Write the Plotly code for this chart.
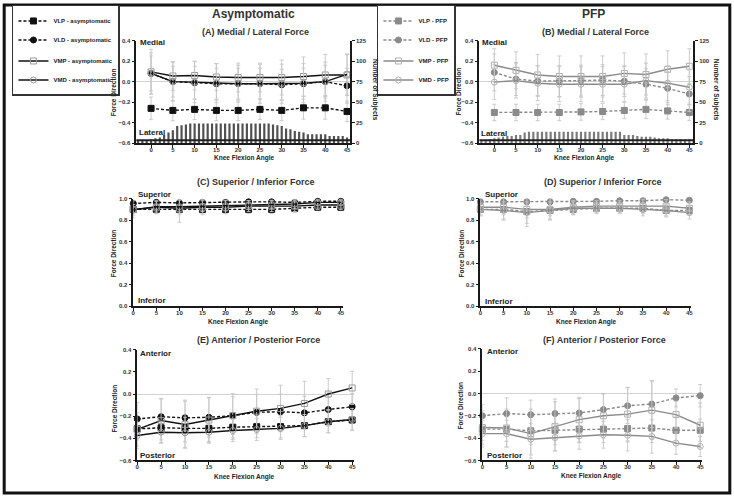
import plotly.graph_objects as go

W, H = 734, 498
FONT = "Liberation Sans"

angles = [0, 5, 10, 15, 20, 25, 30, 35, 40, 45]
bar_angles = [-3, -2, -1, 0, 1, 2, 3, 4, 5, 6, 7, 8, 9, 10, 11, 12, 13, 14, 15, 16,
              17, 18, 19, 20, 21, 22, 23, 24, 25, 26, 27, 28, 29, 30, 31, 32, 33,
              34, 35, 36, 37, 38, 39, 40, 41, 42, 43, 44, 45, 46]

# number of subjects contributing at each knee angle
asym_counts = [4, 4, 4, 5, 6, 7, 10, 13, 16, 21, 22, 23, 24, 24, 24, 24, 24, 24, 24, 24,
               24, 24, 24, 24, 24, 24, 24, 24, 24, 24, 24, 23, 22, 21, 18, 17, 15,
               14, 13, 11, 11, 11, 11, 11, 9, 9, 9, 9, 7, 6]
pfp_counts = [4, 4, 5, 6, 7, 8, 9, 9, 10, 10, 13, 14, 14, 14, 14, 14, 14, 14, 14, 14,
              14, 14, 14, 14, 14, 14, 14, 14, 14, 14, 14, 14, 14, 10, 10, 10, 9,
              8, 8, 8, 7, 6, 6, 6, 5, 5, 5, 5, 5, 5]

# (A) asymptomatic medial / lateral
a_vlp = [-0.26, -0.28, -0.27, -0.28, -0.28, -0.27, -0.28, -0.255, -0.255, -0.29]
a_vld = [0.08, 0.0, -0.01, -0.02, -0.02, -0.02, -0.03, -0.02, 0.0, -0.04]
a_vmp = [0.095, 0.055, 0.06, 0.045, 0.04, 0.04, 0.04, 0.05, 0.065, 0.065]
a_vmd = [0.08, 0.0, -0.005, -0.015, -0.02, -0.02, -0.02, -0.015, 0.0, 0.07]
a_vlp_sd = [0.11, 0.10, 0.10, 0.10, 0.10, 0.10, 0.10, 0.11, 0.11, 0.10]
a_vld_sd = [0.17, 0.15, 0.16, 0.15, 0.15, 0.15, 0.15, 0.15, 0.16, 0.17]
a_vmp_sd = [0.22, 0.14, 0.14, 0.13, 0.14, 0.14, 0.17, 0.19, 0.20, 0.20]
a_vmd_sd = [0.20, 0.19, 0.20, 0.19, 0.18, 0.19, 0.19, 0.19, 0.19, 0.20]

# (B) PFP medial / lateral
b_vlp = [-0.30, -0.30, -0.30, -0.30, -0.295, -0.29, -0.28, -0.27, -0.285, -0.30]
b_vld = [0.09, 0.025, 0.005, 0.005, 0.01, 0.015, 0.005, -0.025, -0.065, -0.12]
b_vmp = [0.16, 0.11, 0.065, 0.05, 0.05, 0.05, 0.08, 0.07, 0.12, 0.15]
b_vmd = [-0.005, 0.01, -0.015, -0.025, -0.025, -0.025, -0.025, 0.01, -0.015, -0.055]
b_vlp_sd = [0.08, 0.08, 0.08, 0.08, 0.08, 0.08, 0.08, 0.09, 0.08, 0.08]
b_vld_sd = [0.18, 0.16, 0.15, 0.15, 0.15, 0.15, 0.15, 0.15, 0.16, 0.17]
b_vmp_sd = [0.16, 0.18, 0.2, 0.2, 0.2, 0.2, 0.2, 0.2, 0.18, 0.17]
b_vmd_sd = [0.17, 0.17, 0.17, 0.17, 0.17, 0.17, 0.17, 0.17, 0.17, 0.17]

# (C) asymptomatic superior / inferior
c_vlp = [0.90, 0.90, 0.90, 0.90, 0.90, 0.90, 0.90, 0.91, 0.92, 0.92]
c_vld = [0.955, 0.965, 0.96, 0.965, 0.965, 0.97, 0.97, 0.965, 0.975, 0.975]
c_vmp = [0.90, 0.92, 0.91, 0.92, 0.92, 0.93, 0.93, 0.93, 0.94, 0.94]
c_vmd = [0.895, 0.925, 0.925, 0.93, 0.935, 0.94, 0.945, 0.95, 0.965, 0.965]
c_vlp_sd = [0.04, 0.04, 0.05, 0.04, 0.04, 0.04, 0.04, 0.04, 0.03, 0.03]
c_vld_sd = [0.03, 0.02, 0.03, 0.02, 0.02, 0.02, 0.02, 0.02, 0.02, 0.02]
c_vmp_sd = [0.08, 0.06, 0.13, 0.07, 0.06, 0.05, 0.05, 0.05, 0.04, 0.04]
c_vmd_sd = [0.05, 0.05, 0.06, 0.05, 0.05, 0.04, 0.04, 0.04, 0.03, 0.03]

# (D) PFP superior / inferior
d_vlp = [0.90, 0.90, 0.88, 0.89, 0.90, 0.91, 0.91, 0.91, 0.89, 0.89]
d_vld = [0.97, 0.97, 0.97, 0.97, 0.975, 0.975, 0.98, 0.98, 0.99, 0.985]
d_vmp = [0.92, 0.92, 0.90, 0.90, 0.92, 0.93, 0.93, 0.93, 0.93, 0.91]
d_vmd = [0.90, 0.89, 0.87, 0.89, 0.91, 0.91, 0.91, 0.90, 0.89, 0.87]
d_vlp_sd = [0.05, 0.05, 0.06, 0.05, 0.05, 0.04, 0.04, 0.05, 0.05, 0.04]
d_vld_sd = [0.02, 0.02, 0.02, 0.02, 0.02, 0.02, 0.02, 0.02, 0.01, 0.01]
d_vmp_sd = [0.08, 0.12, 0.16, 0.1, 0.06, 0.05, 0.05, 0.06, 0.06, 0.06]
d_vmd_sd = [0.06, 0.08, 0.1, 0.08, 0.06, 0.05, 0.05, 0.06, 0.06, 0.06]

# (E) asymptomatic anterior / posterior
e_vlp = [-0.315, -0.305, -0.31, -0.31, -0.30, -0.295, -0.295, -0.285, -0.25, -0.235]
e_vld = [-0.225, -0.205, -0.215, -0.21, -0.195, -0.165, -0.16, -0.17, -0.14, -0.115]
e_vmp = [-0.32, -0.24, -0.275, -0.235, -0.195, -0.155, -0.13, -0.085, 0.0, 0.055]
e_vmd = [-0.375, -0.345, -0.35, -0.345, -0.33, -0.32, -0.31, -0.285, -0.25, -0.23]
e_vlp_sd = [0.10, 0.11, 0.12, 0.12, 0.11, 0.10, 0.10, 0.10, 0.10, 0.09]
e_vld_sd = [0.15, 0.16, 0.16, 0.18, 0.17, 0.16, 0.16, 0.15, 0.15, 0.12]
e_vmp_sd = [0.15, 0.20, 0.21, 0.20, 0.20, 0.20, 0.21, 0.20, 0.14, 0.15]
e_vmd_sd = [0.12, 0.10, 0.14, 0.10, 0.10, 0.10, 0.10, 0.10, 0.10, 0.10]

# (F) PFP anterior / posterior
f_vlp = [-0.32, -0.32, -0.335, -0.33, -0.32, -0.32, -0.315, -0.31, -0.33, -0.33]
f_vld = [-0.20, -0.18, -0.19, -0.18, -0.175, -0.145, -0.11, -0.095, -0.04, -0.02]
f_vmp = [-0.305, -0.31, -0.36, -0.295, -0.235, -0.20, -0.185, -0.15, -0.19, -0.285]
f_vmd = [-0.36, -0.36, -0.41, -0.395, -0.38, -0.37, -0.375, -0.385, -0.445, -0.475]
f_vlp_sd = [0.10, 0.11, 0.12, 0.13, 0.12, 0.12, 0.12, 0.13, 0.12, 0.10]
f_vld_sd = [0.10, 0.14, 0.13, 0.13, 0.13, 0.14, 0.16, 0.21, 0.08, 0.10]
f_vmp_sd = [0.15, 0.17, 0.22, 0.22, 0.2, 0.2, 0.24, 0.26, 0.12, 0.2]
f_vmd_sd = [0.12, 0.12, 0.14, 0.12, 0.12, 0.12, 0.14, 0.15, 0.10, 0.09]

ASYM = "#111111"
PFP = "#8a8a8a"
ERR = "#c6c6c6"


def fx(px):
    return px / W


def fy(py):
    return 1 - py / H


fig = go.Figure()


def add_panel(xa, ya, vals, sds, color, open_color, group, names, legend, showlegend):
    styles = [("square", "3px,2px", "lat"), ("circle", "3px,2px", "lat"),
              ("square-open", "solid", "med"), ("circle-open", "solid", "med")]
    for y, sd, name, (sym, dash, g) in zip(vals, sds, names, styles):
        mcol = open_color if sym.endswith("open") else color
        fig.add_trace(go.Scatter(
            x=angles, y=y, name=name, mode="lines+markers",
            xaxis=xa, yaxis=ya, legend=legend, showlegend=showlegend,
            legendgroup=group + g, cliponaxis=False,
            line=dict(color=color, width=1.4, dash=dash),
            marker=dict(symbol=sym, size=6, color=mcol, line=dict(color=mcol, width=1)),
            error_y=dict(type="data", array=sd, color=ERR, thickness=0.9, width=2),
        ))


asym_names = ["VLP - asymptomatic", "VLD - asymptomatic", "VMP - asymptomatic", "VMD - asymptomatic"]
pfp_names = ["VLP - PFP", "VLD - PFP", "VMP - PFP", "VMD - PFP"]

# histograms of subject counts (right axes)
fig.add_trace(go.Bar(x=bar_angles, y=asym_counts, xaxis="x", yaxis="y2", width=0.5,
                     marker=dict(color="#505050", line=dict(width=0)), showlegend=False))
fig.add_trace(go.Bar(x=bar_angles, y=pfp_counts, xaxis="x2", yaxis="y4", width=0.5,
                     marker=dict(color="#7a7a7a", line=dict(width=0)), showlegend=False))

add_panel("x", "y", [a_vlp, a_vld, a_vmp, a_vmd], [a_vlp_sd, a_vld_sd, a_vmp_sd, a_vmd_sd],
          ASYM, "#9a9a9a", "asym", asym_names, "legend", True)
add_panel("x2", "y3", [b_vlp, b_vld, b_vmp, b_vmd], [b_vlp_sd, b_vld_sd, b_vmp_sd, b_vmd_sd],
          PFP, "#b0b0b0", "pfp", pfp_names, "legend2", True)
add_panel("x3", "y5", [c_vlp, c_vld, c_vmp, c_vmd], [c_vlp_sd, c_vld_sd, c_vmp_sd, c_vmd_sd],
          ASYM, "#9a9a9a", "asym", asym_names, "legend", False)
add_panel("x4", "y6", [d_vlp, d_vld, d_vmp, d_vmd], [d_vlp_sd, d_vld_sd, d_vmp_sd, d_vmd_sd],
          PFP, "#b0b0b0", "pfp", pfp_names, "legend2", False)
add_panel("x5", "y7", [e_vlp, e_vld, e_vmp, e_vmd], [e_vlp_sd, e_vld_sd, e_vmp_sd, e_vmd_sd],
          ASYM, "#9a9a9a", "asym", asym_names, "legend", False)
add_panel("x6", "y8", [f_vlp, f_vld, f_vmp, f_vmd], [f_vlp_sd, f_vld_sd, f_vmp_sd, f_vmd_sd],
          PFP, "#b0b0b0", "pfp", pfp_names, "legend2", False)

tickfont = dict(family=FONT, size=6, color="#333", weight="bold")
axis = dict(showline=True, linecolor="#1a1a1a", linewidth=1.5, ticks="outside", ticklen=3,
            tickwidth=1.2, tickcolor="#1a1a1a", tickfont=tickfont, showgrid=False,
            zeroline=False, fixedrange=True)


def xax(l, r, rng, anchor):
    return dict(axis, domain=[fx(l), fx(r)], range=rng, anchor=anchor, tickvals=angles,
                ticklabelstandoff=-3)


def yax(t, b, rng, anchor, zero=True):
    return dict(axis, domain=[fy(b), fy(t)], range=rng, anchor=anchor, dtick=0.2,
                tickformat=".1f", zeroline=zero, zerolinecolor="#d2d2d2", zerolinewidth=1)


def count_ax(over, anchor):
    return dict(axis, overlaying=over, anchor=anchor, side="right", range=[0, 125],
                tickvals=[0, 25, 50, 75, 100, 125])


legend_style = dict(xanchor="left", yanchor="top", bgcolor="white", bordercolor="#333",
                    borderwidth=1.5, itemwidth=30, tracegroupgap=2,
                    font=dict(family=FONT, size=6, color="#222", weight="bold"))

fig.update_layout(
    width=W, height=H, margin=dict(l=0, r=0, t=0, b=0),
    paper_bgcolor="white", plot_bgcolor="rgba(0,0,0,0)", barmode="overlay",
    xaxis=xax(135, 350, [-3.4, 45.7], "y"),
    yaxis=yax(38, 142, [-0.6, 0.4], "x"),
    yaxis2=count_ax("y", "x"),
    xaxis2=xax(480, 695, [-3.45, 45.9], "y3"),
    yaxis3=yax(38, 142, [-0.6, 0.4], "x2"),
    yaxis4=count_ax("y3", "x2"),
    xaxis3=xax(132, 343, [0, 45.5], "y5"),
    yaxis5=yax(198, 307, [0, 1.0], "x3", zero=False),
    xaxis4=xax(481, 693, [0, 45.4], "y6"),
    yaxis6=yax(198, 307, [0, 1.0], "x4", zero=False),
    xaxis5=xax(136, 354, [0, 45.4], "y7"),
    yaxis7=yax(351, 463, [-0.6, 0.4], "x5"),
    xaxis6=xax(483, 704, [0, 45.4], "y8"),
    yaxis8=yax(350, 463, [-0.6, 0.4], "x6"),
    legend=dict(legend_style, x=fx(10), y=fy(2)),
    legend2=dict(legend_style, x=fx(377), y=fy(2)),
)

ann = []


def text(s, px, py, size, angle=0, xanchor="center", color="#222"):
    ann.append(dict(text=s, x=fx(px), y=fy(py), xref="paper", yref="paper", showarrow=False,
                    xanchor=xanchor, yanchor="middle", textangle=angle,
                    font=dict(family=FONT, size=size, color=color, weight="bold")))


text("Asymptomatic", 253, 11, 12, color="#333")
text("PFP", 595, 11, 12, color="#333")
text("(A) Medial / Lateral Force", 255, 29, 9, color="#333")
text("(B) Medial / Lateral Force", 597, 29, 9, color="#333")
text("(C) Superior / Inferior Force", 255, 181, 9, color="#333")
text("(D) Superior / Inferior Force", 604, 181, 9, color="#333")
text("(E) Anterior / Posterior Force", 258, 341, 9, color="#333")
text("(F) Anterior / Posterior Force", 606, 341, 9, color="#333")

for px, py in [(113, 90), (459, 89), (113, 253), (462, 253), (113, 410), (461, 407)]:
    text("Force Direction", px, py, 6.5, angle=-90)
for px, py in [(243, 157), (585, 157), (237, 323), (587, 323), (243, 480), (592, 479)]:
    text("Knee Flexion Angle", px, py, 6.5)
for px in [375, 718]:
    text("Number of Subjects", px, 88, 6.5, angle=90)

for s, px, py in [("Medial", 137, 40), ("Lateral", 136, 131), ("Medial", 481, 40), ("Lateral", 480, 132),
                  ("Superior", 135, 194), ("Inferior", 135, 301), ("Superior", 484, 194),
                  ("Inferior", 484, 302), ("Anterior", 137, 355), ("Posterior", 137, 458),
                  ("Anterior", 486, 353), ("Posterior", 486, 458)]:
    text(s, px, py, 8, xanchor="left")

fig.update_layout(annotations=ann)

fig.update_layout(shapes=[
    dict(type="rect", xref="paper", yref="paper", x0=0.003, x1=0.997, y0=0.004, y1=0.996,
         line=dict(color="#111", width=3)),
    dict(type="line", xref="x domain", yref="y", x0=0, x1=1, y0=-0.57, y1=-0.57,
         line=dict(color="#222", width=2)),
    dict(type="line", xref="x2 domain", yref="y3", x0=0, x1=1, y0=-0.57, y1=-0.57,
         line=dict(color="#222", width=2)),
])

# page body has a default margin; drop it so the figure fills the window
fig.write_html("out.html", config={"displayModeBar": False},
               post_script="document.body.style.margin='0';")
